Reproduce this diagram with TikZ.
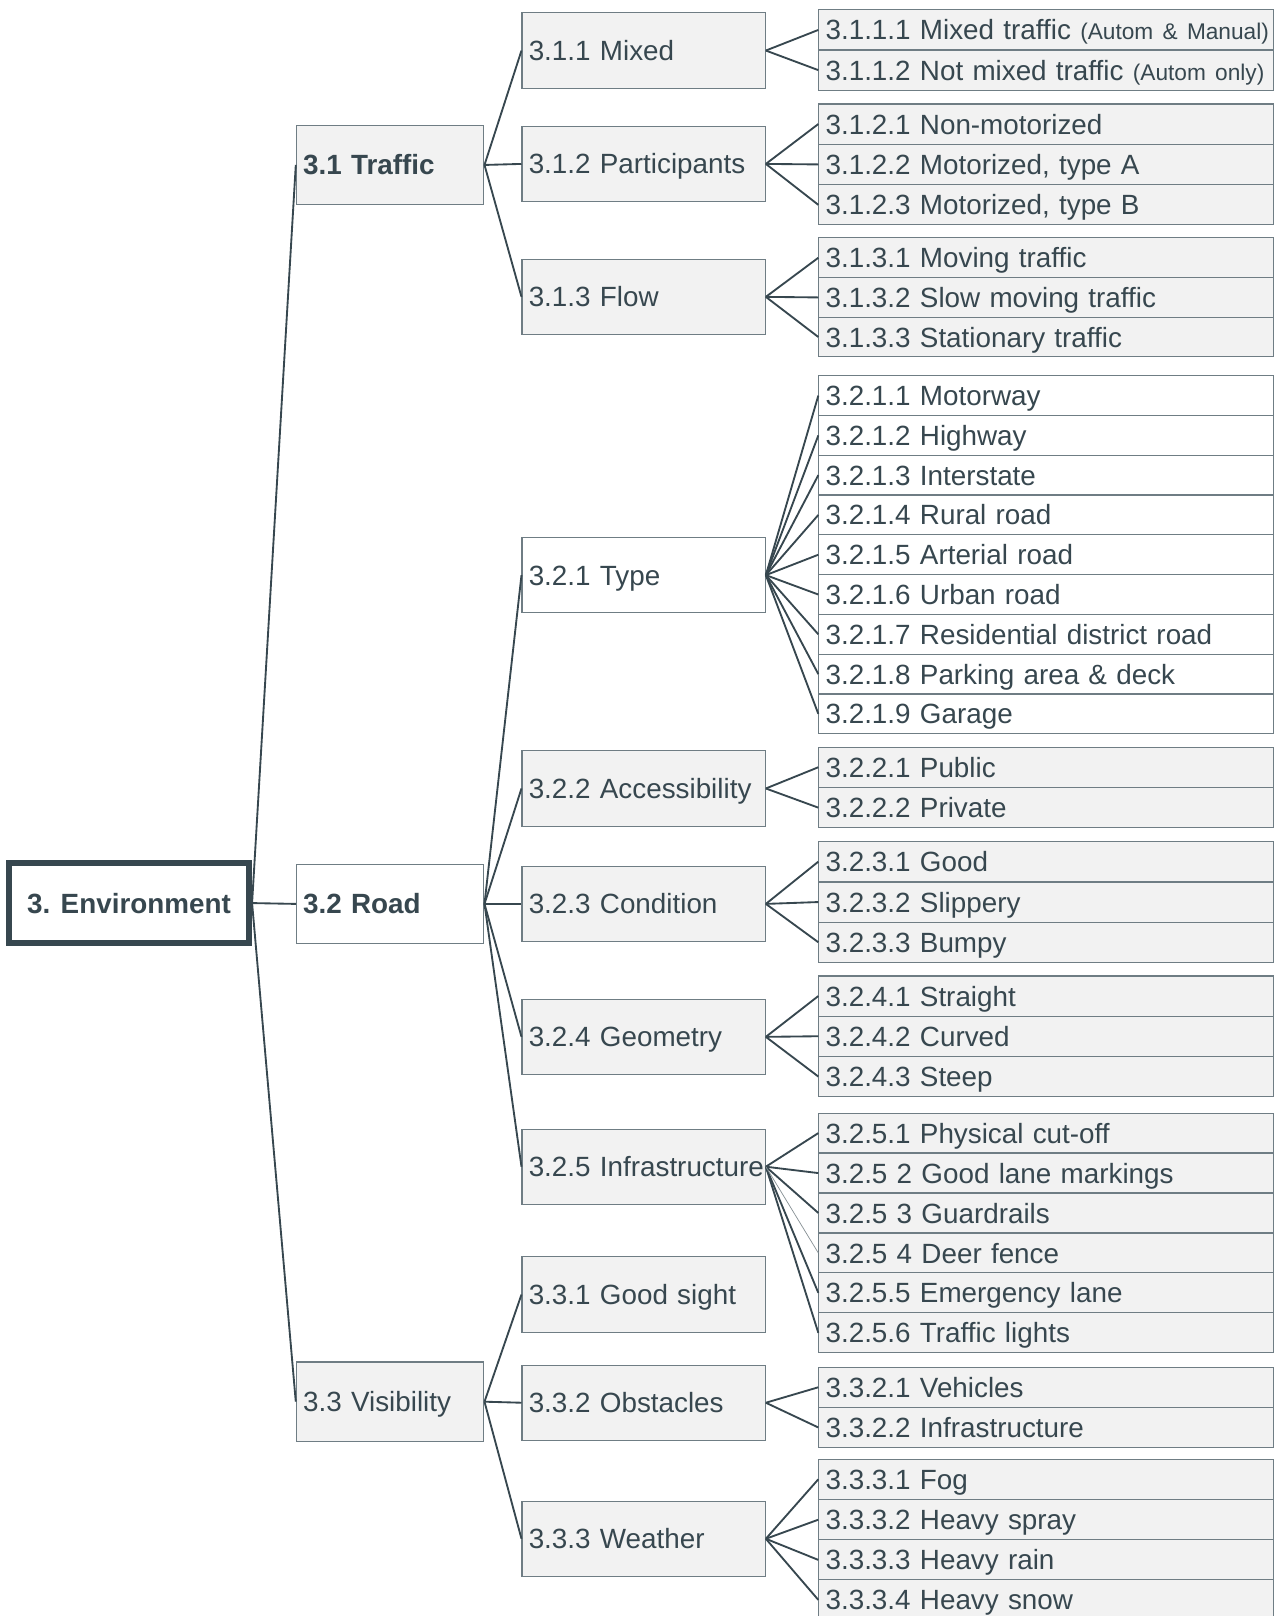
\documentclass[tikz,border=0pt]{standalone}
\usepackage{fontspec}
\setmainfont{Liberation Sans}
\definecolor{txt}{HTML}{37474F}
\definecolor{linec}{HTML}{37474F}
\definecolor{bordc}{HTML}{6F7D84}
\definecolor{boxg}{HTML}{F2F2F2}
\tikzset{
  base/.style={draw=bordc, line width=1.1pt, text=txt, inner xsep=0pt, inner ysep=0pt,
    anchor=north west, align=left, font=\fontsize{27}{32}\selectfont,
    text height=19.5pt, text depth=0pt,
    execute at begin node=\hspace*{6.5pt}},
  lvone/.style={base, text width=182pt, minimum height=77pt},
  lvtwo/.style={base, text width=236pt, minimum height=73pt},
  leafbox/.style={base, text width=441pt, minimum height=39pt},
  gfill/.style={fill=boxg},
  wfill/.style={fill=white},
  rootbox/.style={draw=linec, line width=6pt, fill=white, text=txt, anchor=north west,
    minimum width=232.8pt, minimum height=77.7pt, inner sep=0pt,
    text height=19.5pt, text depth=0pt,
    font=\fontsize{27}{32}\selectfont\bfseries},
  conn/.style={draw=linec, line width=1.8pt},
  thinconn/.style={draw=linec!60, line width=0.7pt},
}
\newcommand{\smalltext}[1]{{\fontsize{22}{26}\selectfont #1}}
\begin{document}
\begin{tikzpicture}[x=1pt,y=-1pt]
\useasboundingbox (0,0) rectangle (1236,1568);
% root
\node[rootbox] (env) at (5.8,834.4) {3. Environment};
% level 1
\node[lvone,gfill,font=\fontsize{27}{32}\selectfont\bfseries] (t31) at (287,121) {3.1 Traffic};
\node[lvone,wfill,font=\fontsize{27}{32}\selectfont\bfseries] (t32) at (287,838) {3.2 Road};
\node[lvone,gfill] (t33) at (287,1321) {3.3 Visibility};
% level 2
\node[lvtwo,gfill] (t311) at (506,12) {3.1.1 Mixed};
\node[lvtwo,gfill] (t312) at (506,122) {3.1.2 Participants};
\node[lvtwo,gfill] (t313) at (506,251) {3.1.3 Flow};
\node[lvtwo,wfill] (t321) at (506,521) {3.2.1 Type};
\node[lvtwo,gfill] (t322) at (506,728) {3.2.2 Accessibility};
\node[lvtwo,gfill] (t323) at (506,840) {3.2.3 Condition};
\node[lvtwo,gfill] (t324) at (506,969) {3.2.4 Geometry};
\node[lvtwo,gfill] (t325) at (506,1095) {3.2.5 Infrastructure};
\node[lvtwo,gfill] (t331) at (506,1219) {3.3.1 Good sight};
\node[lvtwo,gfill] (t332) at (506,1324) {3.3.2 Obstacles};
\node[lvtwo,gfill] (t333) at (506,1456) {3.3.3 Weather};
% leaves 3.1.1
\node[leafbox,gfill] (l3111) at (794,9) {3.1.1.1 Mixed traffic \smalltext{(Autom \& Manual)}};
\node[leafbox,gfill] (l3112) at (794,48) {3.1.1.2 Not mixed traffic \smalltext{(Autom only)}};
% 3.1.2
\node[leafbox,gfill] (l3121) at (794,100.3) {3.1.2.1 Non-motorized};
\node[leafbox,gfill] (l3122) at (794,139.5) {3.1.2.2 Motorized, type A};
\node[leafbox,gfill] (l3123) at (794,178.7) {3.1.2.3 Motorized, type B};
% 3.1.3
\node[leafbox,gfill,minimum height=38.5pt] (l3131) at (794,230.3) {3.1.3.1 Moving traffic};
\node[leafbox,gfill,minimum height=38.5pt] (l3132) at (794,268.8) {3.1.3.2 Slow moving traffic};
\node[leafbox,gfill,minimum height=38.5pt] (l3133) at (794,307.2) {3.1.3.3 Stationary traffic};
% 3.2.1
\node[leafbox,wfill,minimum height=38.6pt] (l3211) at (794,364) {3.2.1.1 Motorway};
\node[leafbox,wfill,minimum height=38.6pt] (l3212) at (794,402.6) {3.2.1.2 Highway};
\node[leafbox,wfill,minimum height=38.6pt] (l3213) at (794,441.2) {3.2.1.3 Interstate};
\node[leafbox,wfill,minimum height=38.6pt] (l3214) at (794,479.8) {3.2.1.4 Rural road};
\node[leafbox,wfill,minimum height=38.6pt] (l3215) at (794,518.4) {3.2.1.5 Arterial road};
\node[leafbox,wfill,minimum height=38.6pt] (l3216) at (794,557) {3.2.1.6 Urban road};
\node[leafbox,wfill,minimum height=38.6pt] (l3217) at (794,595.6) {3.2.1.7 Residential district road};
\node[leafbox,wfill,minimum height=38.6pt] (l3218) at (794,634.2) {3.2.1.8 Parking area \& deck};
\node[leafbox,wfill,minimum height=38.6pt] (l3219) at (794,672.8) {3.2.1.9 Garage};
% 3.2.2
\node[leafbox,gfill] (l3221) at (794,724.4) {3.2.2.1 Public};
\node[leafbox,gfill] (l3222) at (794,763.6) {3.2.2.2 Private};
% 3.2.3
\node[leafbox,gfill] (l3231) at (794,816) {3.2.3.1 Good};
\node[leafbox,gfill] (l3232) at (794,855.2) {3.2.3.2 Slippery};
\node[leafbox,gfill] (l3233) at (794,894.2) {3.2.3.3 Bumpy};
% 3.2.4
\node[leafbox,gfill] (l3241) at (794,946.4) {3.2.4.1 Straight};
\node[leafbox,gfill] (l3242) at (794,985.4) {3.2.4.2 Curved};
\node[leafbox,gfill] (l3243) at (794,1024.5) {3.2.4.3 Steep};
% 3.2.5
\node[leafbox,gfill,minimum height=38.75pt] (l3251) at (794,1079.5) {3.2.5.1 Physical cut-off};
\node[leafbox,gfill,minimum height=38.75pt] (l3252) at (794,1118.3) {3.2.5 2 Good lane markings};
\node[leafbox,gfill,minimum height=38.75pt] (l3253) at (794,1157) {3.2.5 3 Guardrails};
\node[leafbox,gfill,minimum height=38.75pt] (l3254) at (794,1195.8) {3.2.5 4 Deer fence};
\node[leafbox,gfill,minimum height=38.75pt] (l3255) at (794,1234.5) {3.2.5.5 Emergency lane};
\node[leafbox,gfill,minimum height=38.75pt] (l3256) at (794,1273.3) {3.2.5.6 Traffic lights};
% 3.3.2
\node[leafbox,gfill] (l3321) at (794,1326) {3.3.2.1 Vehicles};
\node[leafbox,gfill] (l3322) at (794,1365) {3.3.2.2 Infrastructure};
% 3.3.3
\node[leafbox,gfill] (l3331) at (794,1415.3) {3.3.3.1 Fog};
\node[leafbox,gfill] (l3332) at (794,1454.5) {3.3.3.2 Heavy spray};
\node[leafbox,gfill] (l3333) at (794,1493.5) {3.3.3.3 Heavy rain};
\node[leafbox,gfill] (l3334) at (794,1532.3) {3.3.3.4 Heavy snow};
% connectors
\foreach \c in {t31,t32,t33} \draw[conn] (env.east) -- (\c.west);
\foreach \c in {t311,t312,t313} \draw[conn] (t31.east) -- (\c.west);
\foreach \c in {t321,t322,t323,t324,t325} \draw[conn] (t32.east) -- (\c.west);
\foreach \c in {t331,t332,t333} \draw[conn] (t33.east) -- (\c.west);
\foreach \c in {l3111,l3112} \draw[conn] (t311.east) -- (\c.west);
\foreach \c in {l3121,l3122,l3123} \draw[conn] (t312.east) -- (\c.west);
\foreach \c in {l3131,l3132,l3133} \draw[conn] (t313.east) -- (\c.west);
\foreach \c in {l3211,l3212,l3213,l3214,l3215,l3216,l3217,l3218,l3219} \draw[conn] (t321.east) -- (\c.west);
\foreach \c in {l3221,l3222} \draw[conn] (t322.east) -- (\c.west);
\foreach \c in {l3231,l3232,l3233} \draw[conn] (t323.east) -- (\c.west);
\foreach \c in {l3241,l3242,l3243} \draw[conn] (t324.east) -- (\c.west);
\foreach \c in {l3251,l3252,l3253,l3255,l3256} \draw[conn] (t325.east) -- (\c.west);
\draw[thinconn] (t325.east) -- (l3254.west);
\foreach \c in {l3321,l3322} \draw[conn] (t332.east) -- (\c.west);
\foreach \c in {l3331,l3332,l3333,l3334} \draw[conn] (t333.east) -- (\c.west);
\end{tikzpicture}
\end{document}
